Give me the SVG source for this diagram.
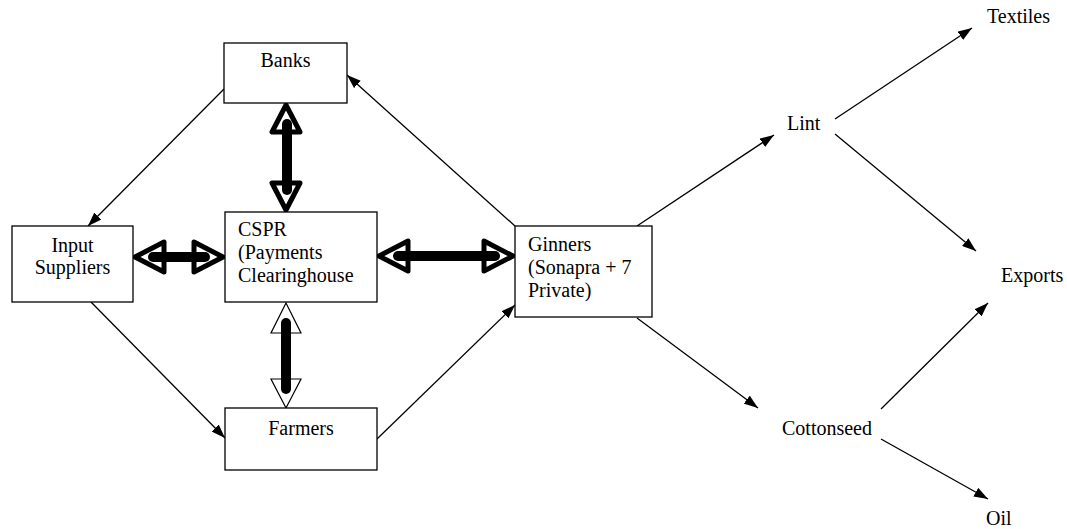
<svg xmlns="http://www.w3.org/2000/svg" width="1067" height="529" viewBox="0 0 1067 529">
<style>
.box{fill:#fff;stroke:#000;stroke-width:1.3}
.t{font-family:"Times New Roman","Liberation Serif","DejaVu Serif",serif;font-size:20px;fill:#000}
.c{text-anchor:middle}
.ln{stroke:#000;stroke-width:1.3;fill:none;marker-end:url(#ah)}
.hd{fill:#fff;stroke:#000;stroke-width:5;stroke-linejoin:round}
.hdt{fill:#fff;stroke:#000;stroke-width:1.2;stroke-linejoin:miter}
.sh{stroke:#000;stroke-width:10;stroke-linecap:round}
</style>
<defs>
<marker id="ah" viewBox="0 0 14 10" refX="14" refY="5" markerWidth="14" markerHeight="10" markerUnits="userSpaceOnUse" orient="auto">
<path d="M0,0 L14,5 L0,10 Z" fill="#000"/>
</marker>
</defs>
<rect width="1067" height="529" fill="#fff"/>
<g id="connectors">
<line class="ln" x1="224" y1="89" x2="88" y2="226"/>
<line class="ln" x1="91" y1="302" x2="225" y2="438"/>
<line class="ln" x1="377" y1="439" x2="515" y2="305"/>
<line class="ln" x1="515" y1="226" x2="347" y2="75"/>
<line class="ln" x1="637" y1="226" x2="774" y2="135"/>
<line class="ln" x1="835" y1="119" x2="972" y2="28"/>
<line class="ln" x1="835" y1="134" x2="976" y2="251"/>
<line class="ln" x1="637" y1="318" x2="758" y2="408"/>
<line class="ln" x1="881" y1="409" x2="988" y2="303"/>
<line class="ln" x1="881" y1="439" x2="988" y2="499"/>
<g id="dbl-input-cspr">
<path class="hd" d="M135,257 L164,242 L164,272 Z"/>
<path class="hd" d="M223,257 L194,242 L194,272 Z"/>
<line class="sh" x1="153" y1="257" x2="205" y2="257"/>
</g>
<g id="dbl-cspr-ginners">
<path class="hd" d="M379,256 L408,241 L408,271 Z"/>
<path class="hd" d="M513,256 L484,241 L484,271 Z"/>
<line class="sh" x1="398" y1="256" x2="495" y2="256"/>
</g>
<g id="dbl-banks-cspr">
<path class="hd" d="M286,105 L272,132 L300,132 Z"/>
<path class="hd" d="M286,210 L272,183 L300,183 Z"/>
<line class="sh" x1="287" y1="124" x2="287" y2="190"/>
</g>
<g id="dbl-cspr-farmers">
<path class="hdt" d="M286,303 L271,333 L301,333 Z"/>
<path class="hdt" d="M286,408 L271,379 L301,379 Z"/>
<line class="sh" x1="286" y1="323" x2="286" y2="389" stroke-width="11"/>
</g>
</g>
<g id="banks">
<rect class="box" x="224" y="43" width="123" height="60"/>
<text class="t c" x="285.5" y="67">Banks</text>
</g>
<g id="input-suppliers">
<rect class="box" x="12" y="226" width="121" height="76"/>
<text class="t c" x="72.5" y="252">Input</text>
<text class="t c" x="72.5" y="274">Suppliers</text>
</g>
<g id="cspr">
<rect class="box" x="225" y="212" width="152" height="90"/>
<text class="t" x="238" y="236">CSPR</text>
<text class="t" x="238" y="259">(Payments</text>
<text class="t" x="238" y="282">Clearinghouse</text>
</g>
<g id="ginners">
<rect class="box" x="515" y="226" width="137" height="91"/>
<text class="t" x="528" y="251">Ginners</text>
<text class="t" x="528" y="274">(Sonapra + 7</text>
<text class="t" x="528" y="297">Private)</text>
</g>
<g id="farmers">
<rect class="box" x="225" y="408" width="152" height="62"/>
<text class="t c" x="301" y="435">Farmers</text>
</g>
<g id="lint"><text class="t" x="787" y="130">Lint</text></g>
<g id="textiles"><text class="t" x="987" y="23">Textiles</text></g>
<g id="exports"><text class="t" x="1001" y="282">Exports</text></g>
<g id="cottonseed"><text class="t" x="782" y="435">Cottonseed</text></g>
<g id="oil"><text class="t" x="986" y="525">Oil</text></g>
</svg>
